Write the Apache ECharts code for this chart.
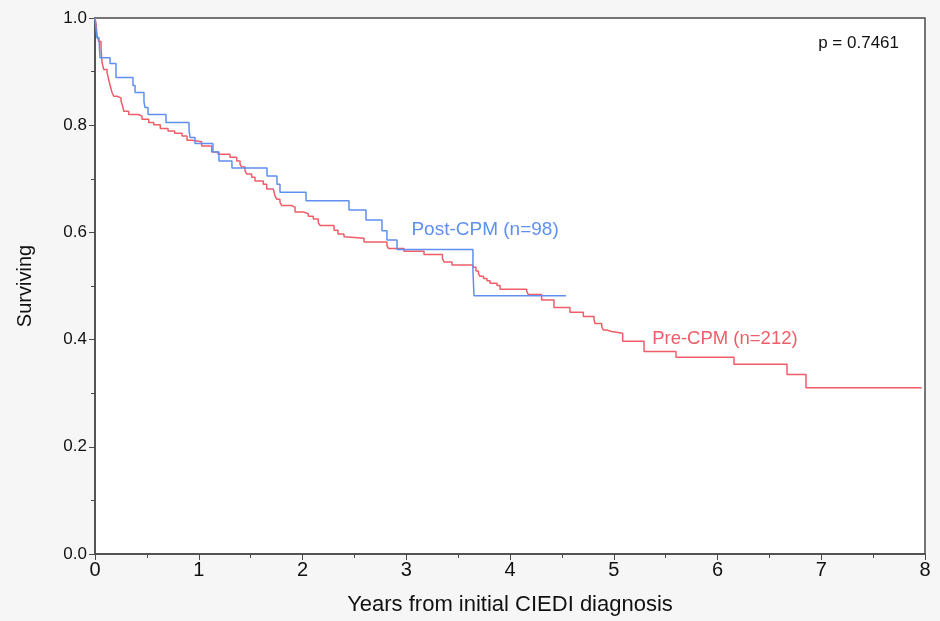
<!DOCTYPE html>
<html lang="en">
<head>
    <meta charset="UTF-8" />
    <title>Survival</title>
    <style>
        html, body { margin: 0; padding: 0; background: #f6f6f6; }
        #chart { width: 940px; height: 621px; }
    </style>
</head>
<body>
    <div id="chart"></div>
    <script src="https://cdn.jsdelivr.net/npm/echarts@6/dist/echarts.min.js"></script>
    <script>
        // step points: [years, surviving after the drop]
        const postCpm = [
            [0, 1.0], [0.019, 0.963], [0.039, 0.959], [0.048, 0.926], [0.145, 0.915],
            [0.202, 0.889], [0.366, 0.874], [0.386, 0.861], [0.472, 0.844], [0.482, 0.833],
            [0.511, 0.820], [0.684, 0.805], [0.906, 0.792], [0.916, 0.777], [0.964, 0.766],
            [1.137, 0.750], [1.195, 0.733], [1.320, 0.720], [1.658, 0.705], [1.754, 0.690],
            [1.783, 0.675], [2.034, 0.659], [2.448, 0.642], [2.612, 0.623], [2.766, 0.603],
            [2.814, 0.586], [2.911, 0.568], [3.643, 0.527], [3.653, 0.482], [4.540, 0.482]
        ]
        const preCpm = [
            [0, 1.0], [0.010, 0.989], [0.019, 0.968], [0.036, 0.956], [0.058, 0.944],
            [0.067, 0.918], [0.084, 0.904], [0.116, 0.898], [0.132, 0.885], [0.147, 0.873],
            [0.164, 0.861], [0.180, 0.854], [0.212, 0.851], [0.251, 0.845], [0.267, 0.835],
            [0.277, 0.826], [0.325, 0.820], [0.421, 0.817], [0.453, 0.811], [0.518, 0.805],
            [0.566, 0.801], [0.629, 0.794], [0.704, 0.789], [0.768, 0.785], [0.839, 0.780],
            [0.887, 0.772], [0.935, 0.769], [1.028, 0.761], [1.125, 0.750], [1.186, 0.746],
            [1.301, 0.740], [1.366, 0.733], [1.398, 0.727], [1.414, 0.722], [1.446, 0.715],
            [1.462, 0.709], [1.510, 0.703], [1.542, 0.696], [1.622, 0.690], [1.655, 0.681],
            [1.719, 0.678], [1.735, 0.668], [1.751, 0.662], [1.783, 0.656], [1.800, 0.650],
            [1.896, 0.647], [1.928, 0.638], [2.008, 0.635], [2.056, 0.630], [2.104, 0.625],
            [2.152, 0.618], [2.169, 0.613], [2.304, 0.604], [2.342, 0.597], [2.400, 0.592],
            [2.410, 0.589], [2.593, 0.582], [2.814, 0.575], [2.828, 0.570], [2.978, 0.565],
            [3.171, 0.559], [3.349, 0.551], [3.364, 0.545], [3.441, 0.539], [3.643, 0.535],
            [3.672, 0.528], [3.696, 0.523], [3.711, 0.518], [3.745, 0.514], [3.778, 0.510],
            [3.807, 0.505], [3.875, 0.501], [3.904, 0.494], [4.161, 0.490], [4.177, 0.484],
            [4.305, 0.474], [4.424, 0.460], [4.578, 0.451], [4.707, 0.443], [4.810, 0.438],
            [4.819, 0.430], [4.884, 0.424], [4.899, 0.418], [4.932, 0.415], [4.980, 0.412],
            [5.086, 0.397], [5.292, 0.378], [5.600, 0.367], [6.159, 0.354], [6.670, 0.335],
            [6.853, 0.310], [7.968, 0.310]
        ]
        const postLabel = 'Post-CPM (n=98)'
        const preLabel = 'Pre-CPM (n=212)'
        const pText = 'p = 0.7461'
        const postLabelAt = [3.05, 0.605]
        const preLabelAt = [5.37, 0.402]

        const blue = '#5f8ff0'
        const red = '#ee5d68'
        const font = 'Liberation Sans, Arial, sans-serif'
        const narrow = 'Liberation Sans Narrow, Liberation Sans, Arial, sans-serif'

        var chart = echarts.init(document.getElementById('chart'))
        var option = {
            backgroundColor: '#f6f6f6',
            animation: false,
            grid: {
                left: 95, right: 15, top: 18, bottom: 64,
                show: true, backgroundColor: '#ffffff',
                borderColor: '#4a4a4a', borderWidth: 1.5
            },
            graphic: [
                {
                    type: 'text', right: 41, top: 35,
                    style: { text: pText, font: '17px ' + font, fill: '#111' }
                }
            ],
            xAxis: {
                type: 'value', min: 0, max: 8, interval: 1,
                name: 'Years from initial CIEDI diagnosis',
                nameLocation: 'middle', nameGap: 40,
                nameTextStyle: { fontFamily: narrow, fontSize: 22, color: '#111' },
                axisLine: { lineStyle: { color: '#4a4a4a', width: 1.5 } },
                axisTick: { length: 6, lineStyle: { color: '#4a4a4a' } },
                minorTick: { show: true, splitNumber: 2, length: 4, lineStyle: { color: '#4a4a4a' } },
                axisLabel: { fontFamily: narrow, fontSize: 20, color: '#111', margin: 6 },
                splitLine: { show: false }
            },
            yAxis: {
                type: 'value', min: 0, max: 1, interval: 0.2,
                name: 'Surviving',
                nameLocation: 'middle', nameGap: 60,
                nameTextStyle: { fontFamily: font, fontSize: 20, color: '#111' },
                axisLine: { show: true, lineStyle: { color: '#4a4a4a', width: 1.5 } },
                axisTick: { show: true, length: 6, lineStyle: { color: '#4a4a4a' } },
                minorTick: { show: true, splitNumber: 2, length: 4, lineStyle: { color: '#4a4a4a' } },
                axisLabel: {
                    fontFamily: font, fontSize: 17, color: '#111', margin: 8,
                    formatter: v => v.toFixed(1)
                },
                splitLine: { show: false }
            },
            series: [
                {
                    name: 'Pre-CPM', type: 'line', step: 'end', data: preCpm,
                    showSymbol: false, lineStyle: { color: red, width: 1.5 },
                    markPoint: {
                        symbol: 'circle', symbolSize: 0,
                        data: [{ coord: preLabelAt }],
                        label: {
                            show: true, position: 'right', distance: 0, formatter: preLabel,
                            fontFamily: font, fontSize: 18.5, color: red
                        }
                    }
                },
                {
                    name: 'Post-CPM', type: 'line', step: 'end', data: postCpm,
                    showSymbol: false, lineStyle: { color: blue, width: 1.5 },
                    markPoint: {
                        symbol: 'circle', symbolSize: 0,
                        data: [{ coord: postLabelAt }],
                        label: {
                            show: true, position: 'right', distance: 0, formatter: postLabel,
                            fontFamily: font, fontSize: 19, color: blue
                        }
                    }
                }
            ]
        }
        chart.setOption(option)
    </script>
</body>
</html>
